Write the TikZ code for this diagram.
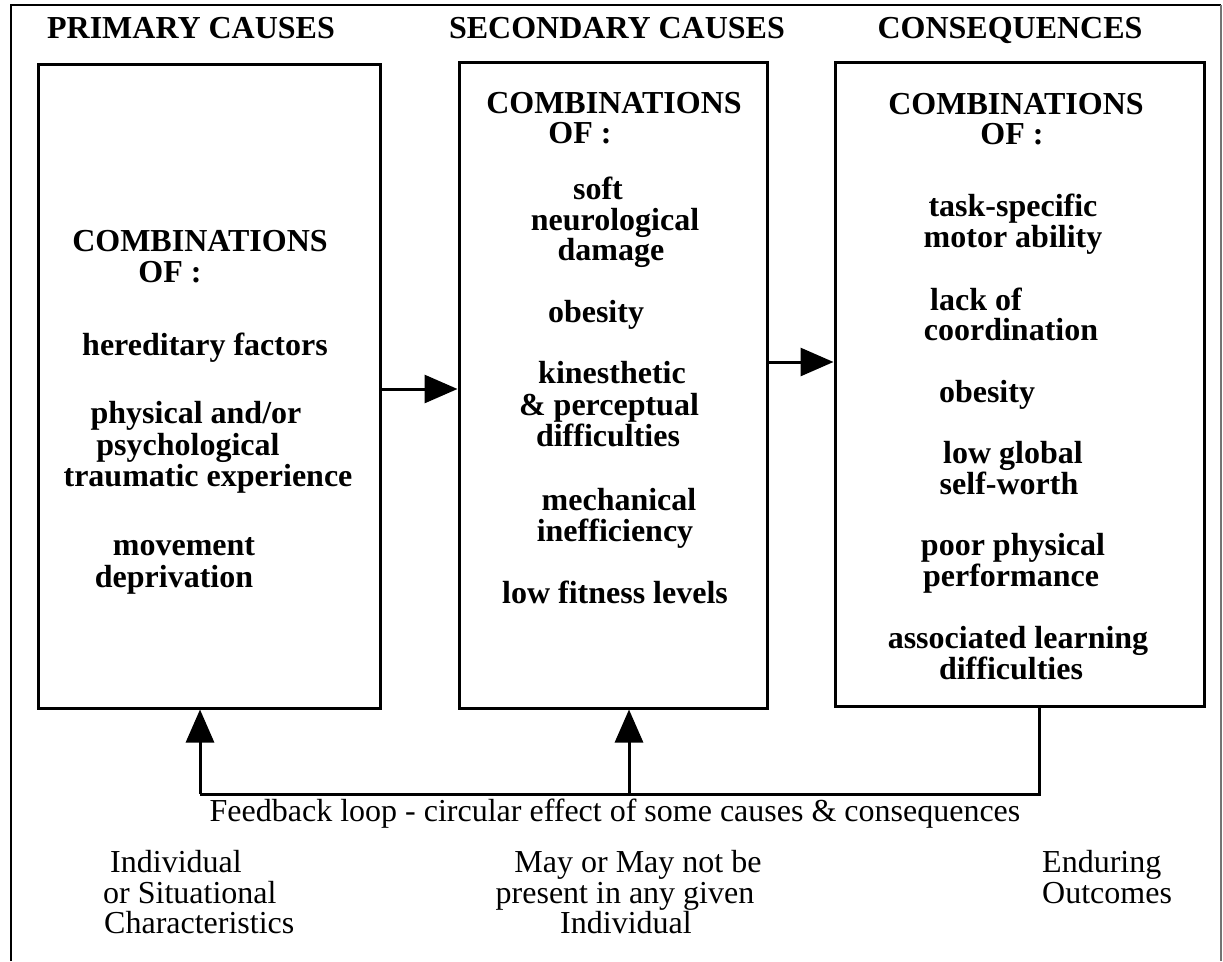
\documentclass[tikz,border=0pt]{standalone}
\usepackage{fontspec}
\setmainfont{Liberation Serif}
\usetikzlibrary{arrows.meta}
\begin{document}
\begin{tikzpicture}[x=1pt,y=-1pt,
  box/.style={draw,line width=3pt,inner sep=0pt},
  bt/.style={anchor=base,inner sep=0pt,font=\fontsize{32}{32}\selectfont\bfseries},
  rt/.style={anchor=base,inner sep=0pt,font=\fontsize{32}{32}\selectfont},
  rtl/.style={anchor=base west,inner sep=0pt,font=\fontsize{32}{32}\selectfont},
  conn/.style={line width=3pt},
  arr/.style={line width=3pt,-{Triangle[length=33pt,width=28pt]}}]
\useasboundingbox (0,0) rectangle (1223,961);
% outer frame
\draw[line width=2pt] (11,961) -- (11,5) -- (1221,5);
\draw[line width=1.2pt,black!55] (1221,5) -- (1221,961);
% headings
\node[bt] (h1) at (191,38) {PRIMARY CAUSES};
\node[bt] (h2) at (617,38) {SECONDARY CAUSES};
\node[bt] (h3) at (1010,38) {CONSEQUENCES};
% boxes
\node[box,minimum width=342pt,minimum height=644pt] (b1) at (209,386) {};
\node[box,minimum width=308pt,minimum height=646pt] (b2) at (613,385) {};
\node[box,minimum width=369pt,minimum height=644pt] (b3) at (1019.5,384) {};
% box 1 text
\node[bt] (p1) at (200,251) {COMBINATIONS};
\node[bt] (p2) at (170,282) {OF :};
\node[bt] (p3) at (205,355) {hereditary factors};
\node[bt] (p4) at (196,423) {physical and/or};
\node[bt] (p5) at (188,455) {psychological};
\node[bt] (p6) at (208,486) {traumatic experience};
\node[bt] (p7) at (184,555) {movement};
\node[bt] (p8) at (174,587) {deprivation};
% box 2 text
\node[bt] (s1) at (614,113) {COMBINATIONS};
\node[bt] (s2) at (580,143) {OF :};
\node[bt] (s3) at (598,199) {soft};
\node[bt] (s4) at (615,230) {neurological};
\node[bt] (s5) at (611,260) {damage};
\node[bt] (s6) at (596,322) {obesity};
\node[bt] (s7) at (612,383) {kinesthetic};
\node[bt] (s8) at (609,415) {\& perceptual};
\node[bt] (s9) at (608,446) {difficulties};
\node[bt] (s10) at (619,510) {mechanical};
\node[bt] (s11) at (615,541) {inefficiency};
\node[bt] (s12) at (615,603) {low fitness levels};
% box 3 text
\node[bt] (c1) at (1016,114) {COMBINATIONS};
\node[bt] (c2) at (1012,144) {OF :};
\node[bt] (c3) at (1013,216) {task-specific};
\node[bt] (c4) at (1013,247) {motor ability};
\node[bt] (c5) at (976,310) {lack of};
\node[bt] (c6) at (1011,340) {coordination};
\node[bt] (c7) at (987,402) {obesity};
\node[bt] (c8) at (1013,463) {low global};
\node[bt] (c9) at (1009,494) {self-worth};
\node[bt] (c10) at (1013,555) {poor physical};
\node[bt] (c11) at (1011,586) {performance};
\node[bt] (c12) at (1018,648) {associated learning};
\node[bt] (c13) at (1011,679) {difficulties};
% forward arrows
\coordinate (a1) at (0,389);
\coordinate (a2) at (0,362);
\draw[arr] (b1.east |- a1) -- (b2.west |- a1);
\draw[arr] (b2.east |- a2) -- (b3.west |- a2);
% feedback loop
\coordinate (fr) at (1039,794);
\coordinate (fl) at (200,794);
\coordinate (fm) at (629,794);
\draw[conn] (b3.south -| fr) -- (fr) -- (fl);
\draw[arr] (fl) -- (b1.south -| fl);
\draw[arr] (fm) -- (b2.south -| fm);
\node[rt] (fb) at (615,821) {Feedback loop - circular effect of some causes \& consequences};
% bottom labels
\node[rtl] (l1) at (110,872) {Individual};
\node[rtl] (l2) at (103,903) {or Situational};
\node[rtl] (l3) at (104,933) {Characteristics};
\node[rt] (m1) at (638,872) {May or May not be};
\node[rt] (m2) at (625,903) {present in any given};
\node[rt] (m3) at (626,933) {Individual};
\node[rtl] (r1) at (1042,872) {Enduring};
\node[rtl] (r2) at (1042,903) {Outcomes};
\end{tikzpicture}
\end{document}
